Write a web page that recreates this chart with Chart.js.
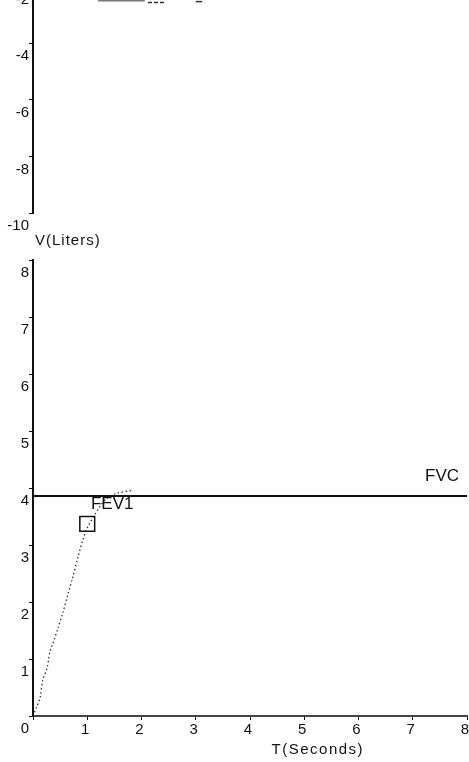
<!DOCTYPE html>
<html>
<head>
<meta charset="utf-8">
<script src="https://cdn.jsdelivr.net/npm/chart.js@4/dist/chart.umd.min.js"></script>
<style>
  body { margin: 0; background: #fff; }
  #wrap { position: relative; width: 469px; height: 762px; overflow: hidden; }
  #top { position: absolute; left: 0; top: -100px; }
  #bottom { position: absolute; left: 0; top: 0; }
</style>
</head>
<body>
<div id="wrap">
  <canvas id="top" width="469" height="330"></canvas>
  <canvas id="bottom" width="469" height="762"></canvas>
</div>
<script>
// data
const curveTime   = [0, 0.06, 0.13, 0.18, 0.26, 0.31, 0.37, 0.46, 0.55, 0.65, 0.72, 0.83, 0.92, 1.0, 1.14, 1.23, 1.36, 1.55, 1.84];
const curveVolume = [0, 0.14, 0.32, 0.63, 0.84, 1.12, 1.28, 1.54, 1.81, 2.16, 2.39, 2.79, 3.09, 3.30, 3.53, 3.67, 3.82, 3.91, 3.96];
const fvcTime   = [0, 8];
const fvcVolume = [3.86, 3.86];
const fev1Time   = [1.0];
const fev1Volume = [3.37];
const timeTicks = [0, 1, 2, 3, 4, 5, 6, 7, 8];
const volumeTicks = [0, 1, 2, 3, 4, 5, 6, 7, 8];

// upper panel (cut off by the page top)
const topTime1 = [1.2, 2.06];
const topVol1  = [-2.47, -2.47];
const topTime2 = [2.12, 2.43];
const topVol2  = [-2.56, -2.56];
const topTime3 = [3.0, 3.12];
const topVol3  = [-2.53, -2.53];
const topTicks = [0, -2, -4, -6, -8, -10];

const FONT = 'Liberation Sans, Arial, sans-serif';
const INK = '#111';

function pts(xs, ys) {
  return xs.map((x, i) => ({x: x, y: ys[i]}));
}

function fixWidth(w) {
  return function(scale) { scale.width = w; };
}

Chart.defaults.font.family = FONT;
Chart.defaults.color = INK;
Chart.defaults.animation = false;

// labels drawn at data positions
const notes = {
  id: 'notes',
  afterDatasetsDraw(chart) {
    const c = chart.ctx, x = chart.scales.x, y = chart.scales.y, a = chart.chartArea;
    c.save();
    c.fillStyle = INK;
    c.font = '17px ' + FONT;
    c.textAlign = 'center';
    c.textBaseline = 'middle';
    c.fillText('FVC', x.getPixelForValue(7.54), y.getPixelForValue(4.21));
    c.fillText('FEV1', x.getPixelForValue(1.46), y.getPixelForValue(3.72));
    c.font = '15px ' + FONT;
    c.letterSpacing = '1.5px';
    c.fillText('T(Seconds)', x.getPixelForValue(5.25), a.bottom + 34);
    c.letterSpacing = '1px';
    c.textAlign = 'left';
    c.fillText('V(Liters)', a.left + 2, a.top - 19);
    c.restore();
  }
};

new Chart(document.getElementById('bottom'), {
  type: 'scatter',
  data: {
    datasets: [
      {
        data: pts(fvcTime, fvcVolume),
        showLine: true, borderColor: INK, borderWidth: 2, pointRadius: 0
      },
      {
        data: pts(curveTime, curveVolume),
        showLine: true, borderColor: '#222', borderWidth: 1.2, borderDash: [1.5, 2.5],
        pointRadius: 0, tension: 0.3
      },
      {
        data: pts(fev1Time, fev1Volume),
        pointStyle: 'rect', pointRadius: 10.5, borderColor: INK, borderWidth: 1.5,
        backgroundColor: 'rgba(0,0,0,0)'
      }
    ]
  },
  options: {
    responsive: false,
    layout: { autoPadding: false, padding: { top: 260, right: 2, left: 0, bottom: 0 } },
    plugins: { legend: { display: false }, tooltip: { enabled: false } },
    scales: {
      x: {
        type: 'linear', min: 0, max: 8,
        afterBuildTicks: s => { s.ticks = timeTicks.map(v => ({value: v})); },
        afterFit: s => { s.height = 46; s.paddingLeft = 0; s.paddingRight = 0; },
        grid: { drawOnChartArea: false, tickLength: 4, color: INK },
        border: { color: '#444', width: 2 },
        ticks: {
          padding: 1, labelOffset: -2, maxRotation: 0,
          font: { size: 15 },
          callback: v => v === 0 ? '' : String(v)
        }
      },
      y: {
        type: 'linear', min: 0, max: 8,
        afterBuildTicks: s => { s.ticks = volumeTicks.map(v => ({value: v})); },
        afterFit: fixWidth(33),
        grid: { drawOnChartArea: false, tickLength: 4, color: INK },
        border: { color: INK, width: 2 },
        ticks: { padding: 0, labelOffset: 12.5, font: { size: 15 } }
      }
    }
  },
  plugins: [notes]
});

new Chart(document.getElementById('top'), {
  type: 'scatter',
  data: {
    datasets: [
      { data: pts(topTime1, topVol1), showLine: true, borderColor: '#777', borderWidth: 3, pointRadius: 0 },
      { data: pts(topTime2, topVol2), showLine: true, borderColor: '#333', borderWidth: 1.5, borderDash: [4, 2], pointRadius: 0 },
      { data: pts(topTime3, topVol3), showLine: true, borderColor: '#333', borderWidth: 1.5, pointRadius: 0 }
    ]
  },
  options: {
    responsive: false,
    layout: { autoPadding: false, padding: { top: 30, right: 2, left: 0, bottom: 17 } },
    plugins: { legend: { display: false }, tooltip: { enabled: false } },
    scales: {
      x: { type: 'linear', min: 0, max: 8, display: false },
      y: {
        type: 'linear', min: -10, max: 0,
        afterBuildTicks: s => { s.ticks = topTicks.map(v => ({value: v})); },
        afterFit: fixWidth(33),
        grid: { drawOnChartArea: false, tickLength: 4, color: INK },
        border: { color: INK, width: 2 },
        ticks: { padding: 0, labelOffset: 13, font: { size: 15 } }
      }
    }
  }
});
</script>
</body>
</html>
